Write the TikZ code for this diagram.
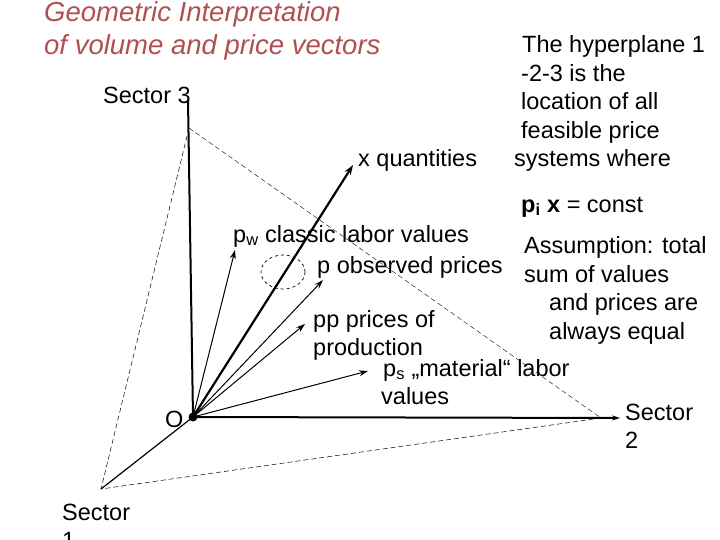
\documentclass[tikz,border=0pt]{standalone}
\usepackage{fontspec}
\setmainfont{Liberation Sans}
\usetikzlibrary{arrows.meta}
\definecolor{titlered}{RGB}{176,80,80}
\newcommand{\mlines}[1]{\begin{tabular}[t]{@{}l@{}}#1\end{tabular}}
\begin{document}
\begin{tikzpicture}[x=1pt,y=-1pt,
  txt/.style={font=\fontsize{23.5}{28.5}\selectfont,inner sep=0pt,anchor=base west},
  vec/.style={-{Stealth[length=9pt,width=6pt]},line width=1pt},
  thickvec/.style={-{Stealth[length=10pt,width=7pt]},line width=2.2pt},
  dsh/.style={dashed,line width=0.5pt,dash pattern=on 5pt off 3pt}]
\useasboundingbox (0,0) rectangle (720,540);
\coordinate (O) at (193,417);
\coordinate (S3) at (189,128);
\coordinate (S3t) at (188,100);
\coordinate (S1) at (101,489);
\coordinate (S2) at (601,418);
\coordinate (S2t) at (620,418);
\coordinate (X) at (353,165);
\coordinate (PW) at (235,250);
\coordinate (P) at (323,280);
\coordinate (PP) at (305,324);
\coordinate (PS) at (368,371);
% axes
\draw[line width=2pt] (O) -- (S3t);
\draw[line width=2pt,-{Stealth[length=8pt,width=5pt]}] (O) -- (S2t);
\draw[line width=1.2pt] (O) -- (S1);
% plane
\draw[dsh] (S3) -- (S1) -- (S2);
\draw[dsh,line width=0.4pt] (S3) -- (S2);
% ellipse
\draw[dashed,line width=0.7pt] (283,272) ellipse[x radius=22,y radius=17];
% vectors
\draw[thickvec] (O) -- (X);
\draw[vec] (O) -- (PW);
\draw[vec] (O) -- (P);
\draw[vec] (O) -- (PP);
\draw[vec] (O) -- (PS);
\fill (O) circle (4.5pt);
% texts
\node[txt,text=titlered,font=\fontsize{27.5}{33}\selectfont\itshape] (title) at (44,22) {\mlines{Geometric Interpretation\\of volume and price vectors}};
\node[txt] (s3) at (103,104) {Sector 3};
\node[txt] (xq) at (358,167) {x quantities};
\node[txt] (hyp) at (514,53) {\mlines{\hspace*{8pt}The hyperplane 1\\\hspace*{7pt}-2-3 is the\\\hspace*{7pt}location of all\\\hspace*{7pt}feasible price\\systems where}};
\node[txt] (pix) at (521,212) {$\mathbf{p}$\textsubscript{\textbf{i}} \textbf{x} = const};
\node[txt] (ass) at (524,254) {\mlines{Assumption: total\\sum of values\\\hspace*{25pt}and prices are\\\hspace*{25pt}always equal}};
\node[txt] (pw) at (233,242) {p\textsubscript{w} classic labor values};
\node[txt] (p) at (317,273) {p observed prices};
\node[txt] (pp) at (313,327) {\mlines{pp prices of\\production}};
\node[txt] (ps) at (381,376) {\mlines{\hspace*{2pt}p\textsubscript{s} „material“ labor\\values}};
\node[txt] (o) at (165,427) {O};
\node[txt] (s2) at (625,420) {\mlines{Sector\\2}};
\node[txt] (s1) at (62,520) {\mlines{Sector\\1}};
\end{tikzpicture}
\end{document}
